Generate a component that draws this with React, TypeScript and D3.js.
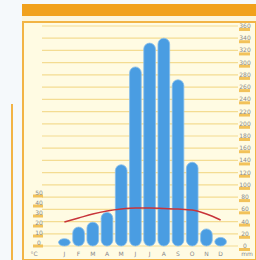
import React from 'react';
import * as d3 from 'd3';

const months = ['J', 'F', 'M', 'A', 'M', 'J', 'J', 'A', 'S', 'O', 'N', 'D'];
const precip = [12, 31, 39, 55, 133, 293, 332, 340, 272, 137, 28, 14];
const temp = [21, 25, 29, 32, 34, 35, 35, 34.5, 34, 33, 29, 23];
const precipTicks = d3.range(0, 361, 20);
const tempTicks = [0, 10, 20, 30, 40, 50];

const W = 256;
const H = 260;

const App: React.FC = () => {
  const x = d3.scaleBand<number>()
    .domain(d3.range(12))
    .range([56, 229])
    .padding(0.18);
  const yP = d3.scaleLinear().domain([0, 360]).range([246, 26]);
  const yT = d3.scaleLinear().domain([0, 50]).range([243, 193]);

  const line = d3.line<number>()
    .curve(d3.curveMonotoneX)
    .x((_, i) => x(i)! + x.bandwidth() / 2)
    .y(d => yT(d));

  const bw = x.bandwidth();

  return (
    <svg width={W} height={H} style={{ position: 'absolute', left: 0, top: 0 }}>
      <rect x={0} y={0} width={W} height={H} fill="#f5f9fb" />
      {/* top orange band */}
      <rect x={22} y={4} width={W - 22} height={12} fill="#f1a11c" />
      <rect x={22} y={16} width={W - 22} height={5} fill="#fdf6dc" />
      {/* panel */}
      <rect x={23} y={22} width={W - 23} height={H - 22} fill="#fffbe3" stroke="#f2b445" strokeWidth={2} />
      <line x1={12} x2={12} y1={104} y2={H} stroke="#f2b445" strokeWidth={2} />

      {/* gridlines */}
      {precipTicks.map(t => (
        <line key={t} x1={42} x2={238} y1={yP(t)} y2={yP(t)} stroke="#f4dc92" strokeWidth={1.2} />
      ))}

      {/* bars */}
      {precip.map((v, i) => (
        <rect key={i} x={x(i)} y={yP(v)} width={bw} height={yP(0) - yP(v)}
          rx={bw / 2} fill="#4a9de2" stroke="#86bdea" strokeWidth={0.8} />
      ))}

      {/* temperature */}
      <path d={line(temp) ?? ''} fill="none" stroke="#c8343a" strokeWidth={1.5} />

      {/* right axis */}
      {precipTicks.map(t => (
        <g key={t}>
          <rect x={239} y={yP(t) + 2} width={11} height={3} fill="#f2c25a" />
          <text x={245} y={yP(t) + 2} fontSize={6} textAnchor="middle" fill="#8a8a8a"
            fontFamily="DejaVu Sans">{t}</text>
        </g>
      ))}

      {/* left axis */}
      {tempTicks.map(t => (
        <g key={t}>
          <rect x={33} y={yT(t) + 1.5} width={10} height={3} fill="#f2c25a" />
          <text x={39} y={yT(t) + 2} fontSize={6} textAnchor="middle" fill="#8a8a8a"
            fontFamily="DejaVu Sans">{t}</text>
        </g>
      ))}

      {/* month labels */}
      {months.map((m, i) => (
        <text key={i} x={x(i)! + bw / 2} y={256} fontSize={6} textAnchor="middle" fill="#8a8a8a"
          fontFamily="DejaVu Sans">{m}</text>
      ))}
      <text x={34} y={256} fontSize={6} textAnchor="middle" fill="#8a8a8a" fontFamily="DejaVu Sans">°C</text>
      <text x={247} y={256} fontSize={6} textAnchor="middle" fill="#8a8a8a" fontFamily="DejaVu Sans">mm</text>
    </svg>
  );
};

export default App;
